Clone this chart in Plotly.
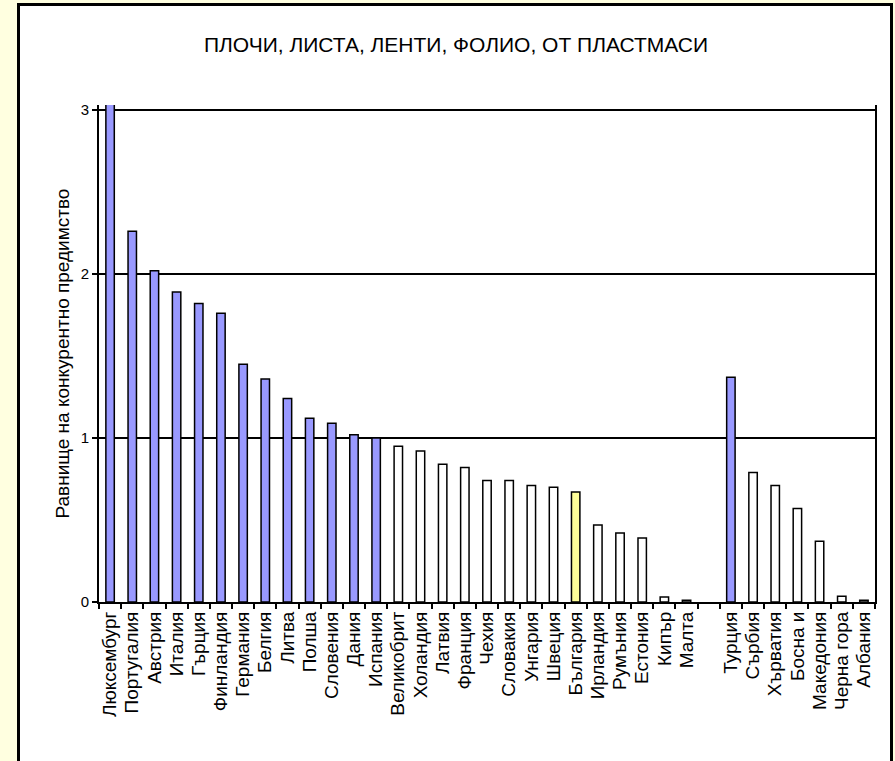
import plotly.graph_objects as go

# ---- data ----
countries = [
    "Люксембург", "Португалия", "Австрия", "Италия", "Гърция", "Финландия",
    "Германия", "Белгия", "Литва", "Полша", "Словения", "Дания", "Испания",
    "Великобрит", "Холандия", "Латвия", "Франция", "Чехия", "Словакия",
    "Унгария", "Швеция", "България", "Ирландия", "Румъния", "Естония",
    "Кипър", "Малта", " ", "Турция", "Сърбия", "Хърватия", "Босна и",
    "Македония", "Черна гора", "Албания",
]
values = [
    3.40, 2.26, 2.02, 1.89, 1.82, 1.76,
    1.45, 1.36, 1.24, 1.12, 1.09, 1.02, 1.00,
    0.95, 0.92, 0.84, 0.82, 0.74, 0.74,
    0.71, 0.70, 0.67, 0.47, 0.42, 0.39,
    0.03, 0.01, None, 1.37, 0.79, 0.71, 0.57,
    0.37, 0.035, 0.01,
]
highlight_country = "България"
title_text = "ПЛОЧИ, ЛИСТА, ЛЕНТИ, ФОЛИО, ОТ ПЛАСТМАСИ"
y_title = "Равнище на конкурентно предимство"
y_ticks = [0, 1, 2, 3]

# ---- styling ----
BLUE = "#9999FF"
YELLOW = "#FFFF99"
WHITE = "#FFFFFF"
colors = []
for c, v in zip(countries, values):
    if c == highlight_country:
        colors.append(YELLOW)
    elif v is not None and v >= 1:
        colors.append(BLUE)
    else:
        colors.append(WHITE)

W, H = 895, 761
L, R, T, B = 99, 875, 105, 602  # plot area in pixels
pw, ph = R - L, B - T
FONT = "Liberation Sans, Arial, sans-serif"
BG = "#FFFFE0"


def px_x(x):
    return (x - L) / pw


def px_y(y):
    return (B - y) / ph


fig = go.Figure()
fig.add_trace(go.Bar(
    x=countries,
    y=values,
    marker=dict(color=colors, line=dict(color="black", width=1.5)),
    width=0.38,
    hoverinfo="x+y",
))

fig.update_layout(
    width=W, height=H,
    margin=dict(l=L, r=W - R, t=T, b=H - B, autoexpand=False),
    paper_bgcolor=BG,
    plot_bgcolor="white",
    showlegend=False,
    font=dict(family=FONT, color="black"),
    title=dict(
        text=title_text,
        x=456 / W, xanchor="center",
        y=1 - 45 / H, yanchor="middle",
        font=dict(family=FONT, size=21, color="black"),
    ),
    shapes=[
        dict(type="rect", xref="paper", yref="paper", layer="below",
             x0=px_x(18.5), x1=px_x(891.5), y0=px_y(4.5), y1=px_y(800),
             fillcolor="white", line=dict(color="black", width=3)),
    ],
    annotations=[
        dict(text=y_title, xref="paper", yref="paper",
             x=px_x(62), y=0.5, xanchor="center", yanchor="middle",
             textangle=-90, showarrow=False,
             font=dict(family=FONT, size=19, color="black")),
    ],
)

fig.update_xaxes(
    type="category",
    range=[-0.5, len(countries) - 0.5],
    tickmode="array", tickvals=countries, ticktext=countries,
    tickangle=-90,
    tickfont=dict(family=FONT, size=19, color="black"),
    ticks="outside", tickson="boundaries", ticklen=5, tickwidth=2, tickcolor="black",
    showline=True, linecolor="black", linewidth=2,
    showgrid=False, zeroline=False,
)
fig.update_yaxes(
    range=[0, 3.03],
    tickvals=y_ticks,
    tickfont=dict(family=FONT, size=15, color="black"),
    ticks="outside", ticklen=5, tickwidth=2, tickcolor="black",
    showline=True, linecolor="black", linewidth=2, mirror=True,
    showgrid=True, gridcolor="black", gridwidth=2,
    zeroline=False,
)

fig.write_html(
    "out.html",
    config={"displayModeBar": False},
    post_script="document.body.style.margin='0';document.body.style.background='" + BG + "';",
)
